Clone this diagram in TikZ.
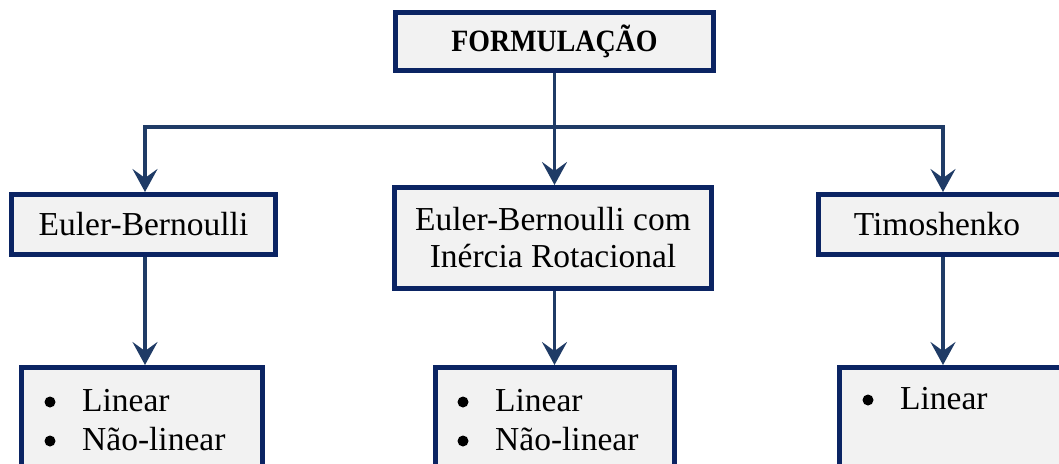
\documentclass[tikz,border=0pt]{standalone}
\usepackage{fontspec}
\setmainfont{Liberation Serif}
\usetikzlibrary{arrows.meta}
\definecolor{boxline}{HTML}{0B2463}
\definecolor{arrline}{HTML}{1F3B66}
\definecolor{boxfill}{HTML}{F2F2F2}
\tikzset{
  box/.style={draw=boxline, line width=5pt, fill=boxfill, inner sep=0pt, align=center,
    font=\fontsize{33.5}{37}\selectfont},
  conn/.style={draw=arrline, line width=3.3pt, -{Stealth[length=23pt,width=25pt,inset=9pt]}},
  item/.style={anchor=base west, inner sep=0pt, font=\fontsize{33.5}{37}\selectfont},
  bul/.style={circle, fill=black, inner sep=0pt, minimum size=11pt},
}
\begin{document}
\begin{tikzpicture}[x=1pt,y=-1pt]
\useasboundingbox (0,0) rectangle (1059,463);
\clip (0,0) rectangle (1059,463);
% boxes
\node[box, minimum width=318pt, minimum height=58pt, font=\fontsize{31}{34}\selectfont\bfseries] (top) at (554.5,41.5) {\scalebox{0.9}[1]{FORMULAÇÃO}};
\node[box, minimum width=264pt, minimum height=60pt] (eb) at (143.5,224.5) {Euler-Bernoulli};
\node[box, minimum width=317pt, minimum height=101pt] (ebr) at (553,238) {Euler-Bernoulli com\\Inércia Rotacional};
\node[box, minimum width=255pt, minimum height=60pt, text width=255pt] (tim) at (946,224.5) {\hspace*{-18pt}Timoshenko};
\node[box, minimum width=241pt, minimum height=140pt] (ebl) at (142,437.5) {};
\node[box, minimum width=239pt, minimum height=140pt] (ebrl) at (555,437.5) {};
\node[box, minimum width=241pt, minimum height=140pt] (timl) at (960,437.5) {};
% list items
\node[bul] (b1) at (50,402) {};
\node[item] (t1) at (82,411) {Linear};
\node[bul] (b2) at (50,441) {};
\node[item] (t2) at (82,450) {Não-linear};
\node[bul] (b3) at (463,402) {};
\node[item] (t3) at (495,411) {Linear};
\node[bul] (b4) at (463,441) {};
\node[item] (t4) at (495,450) {Não-linear};
\node[bul] (b5) at (868,400) {};
\node[item] (t5) at (900,409) {Linear};
% connectors
\coordinate (jl) at (145,127);
\coordinate (jr) at (943,127);
\draw[conn] (top.south) -- ++(0,54) -| (jl) -- (jl |- eb.north);
\draw[conn] (top.south) -- (top.south |- ebr.north);
\draw[conn] (top.south) -- ++(0,54) -| (jr) -- (jr |- tim.north);
\draw[conn] (eb.south -| jl) -- (jl |- ebl.north);
\draw[conn] (ebr.south -| top.south) -- (top.south |- ebrl.north);
\draw[conn] (tim.south -| jr) -- (jr |- timl.north);
\end{tikzpicture}
\end{document}
